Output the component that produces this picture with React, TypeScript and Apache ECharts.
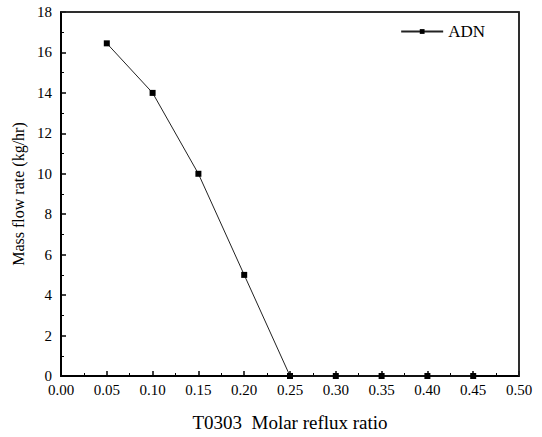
import React, { useEffect, useRef } from "react";
import * as echarts from "echarts";

const xValues = [0.05, 0.1, 0.15, 0.2, 0.25, 0.3, 0.35, 0.4, 0.45];
const adnValues = [16.45, 14.0, 10.0, 5.0, 0.0, 0.0, 0.0, 0.0, 0.0];
const seriesName = "ADN";
const xTitle = "T0303  Molar reflux ratio";
const yTitle = "Mass flow rate (kg/hr)";

export default function App() {
  const ref = useRef<HTMLDivElement>(null);
  useEffect(() => {
    if (!ref.current) return;
    const chart = echarts.init(ref.current, null, { renderer: "svg" });
    const font = "Liberation Serif";
    chart.setOption({
      animation: false,
      backgroundColor: "#fff",
      textStyle: { fontFamily: font },
      grid: {
        left: 61,
        top: 12,
        right: 23,
        bottom: 57,
        containLabel: false,
        show: true,
        borderColor: "rgb(30,30,30)",
        borderWidth: 1.5,
        backgroundColor: "rgba(255,255,255,0.01)",
      },
      legend: {
        data: [{ name: seriesName }],
        right: 52,
        top: 18,
        itemWidth: 42,
        itemHeight: 6,
        itemGap: 4,
        textStyle: { fontFamily: font, fontSize: 17, color: "#000" },
      },
      xAxis: {
        type: "value",
        min: 0,
        max: 0.5,
        interval: 0.05,
        name: xTitle,
        nameLocation: "middle",
        nameGap: 37,
        nameTextStyle: { fontFamily: font, fontSize: 19, color: "#000" },
        axisLine: { onZero: false, lineStyle: { color: "#000", width: 2 } },
        axisTick: { inside: true, length: 5, lineStyle: { color: "#000", width: 1.5 } },
        minorTick: { show: true, splitNumber: 2, length: 3, lineStyle: { color: "#000", width: 1 } },
        splitLine: { show: false },
        axisLabel: {
          fontFamily: font,
          fontSize: 15,
          color: "#000",
          margin: 6,
          formatter: (v: number) => v.toFixed(2),
        },
      },
      yAxis: {
        type: "value",
        min: 0,
        max: 18,
        interval: 2,
        name: yTitle,
        nameLocation: "middle",
        nameGap: 30,
        nameTextStyle: { fontFamily: font, fontSize: 16, color: "#000" },
        axisLine: { show: true, onZero: false, lineStyle: { color: "#000", width: 2 } },
        axisTick: { show: true, inside: true, length: 5, lineStyle: { color: "#000", width: 1.5 } },
        minorTick: { show: true, splitNumber: 2, length: 3, lineStyle: { color: "#000", width: 1 } },
        splitLine: { show: false },
        axisLabel: { fontFamily: font, fontSize: 15, color: "#000", margin: 9 },
      },
      series: [
        {
          name: seriesName,
          type: "line",
          data: xValues.map((x, i) => [x, adnValues[i]]),
          symbol: "rect",
          symbolSize: 6,
          itemStyle: { color: "#000" },
          lineStyle: { color: "#222", width: 1 },
          clip: false,
          z: 5,
        },
      ],
    });
    const tl = chart.convertToPixel({ gridIndex: 0 }, [0, 18]) as number[];
    const br = chart.convertToPixel({ gridIndex: 0 }, [0.5, 0]) as number[];
    if (tl && br) {
      chart.setOption({
        graphic: [
          {
            type: "polyline",
            silent: true,
            z: 10,
            shape: {
              points: [
                [tl[0], tl[1]],
                [br[0], tl[1]],
                [br[0], br[1]],
              ],
            },
            style: { stroke: "#222", lineWidth: 1.5, fill: null },
          },
        ],
      });
    }
    return () => chart.dispose();
  }, []);
  return (
    <div
      ref={ref}
      style={{ position: "absolute", left: 0, top: 0, width: 542, height: 437 }}
    />
  );
}
